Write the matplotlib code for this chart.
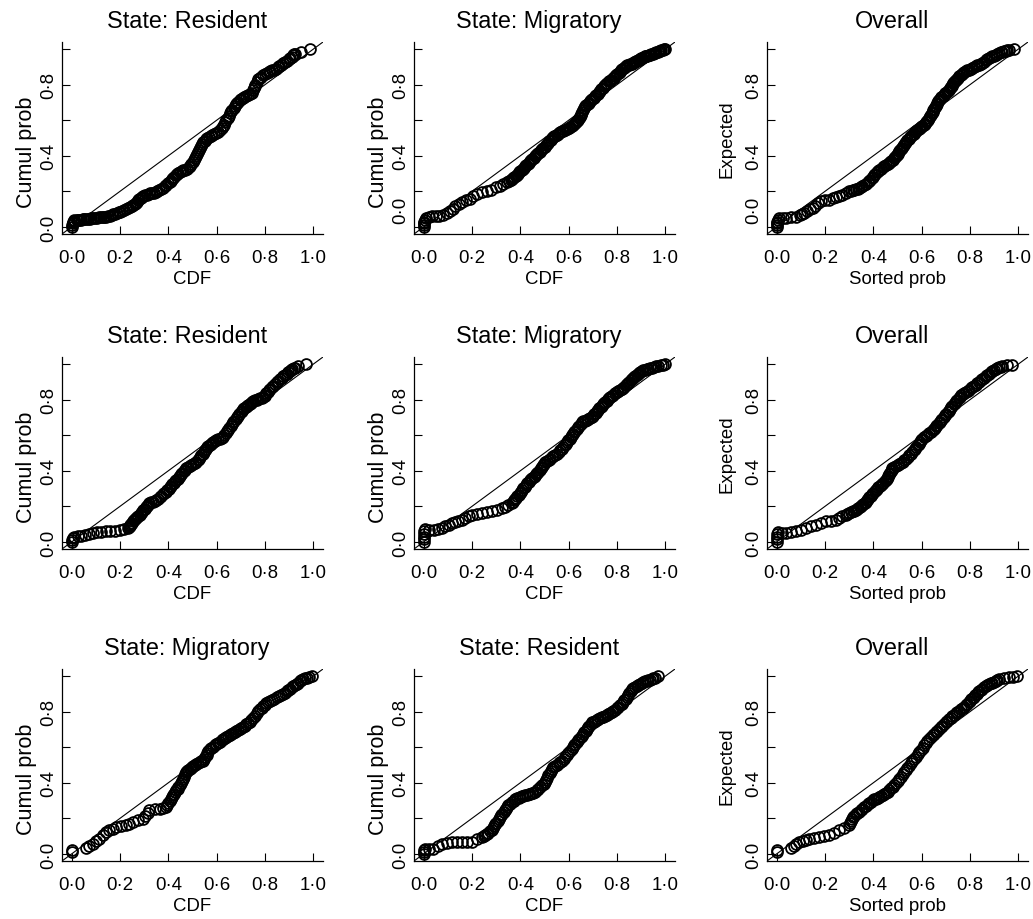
import matplotlib
matplotlib.use('Agg')
import matplotlib.pyplot as plt
from matplotlib.transforms import ScaledTranslation

plt.rcParams['font.family'] = ['Liberation Sans', 'DejaVu Sans']

# (CDF, cumulative probability) pairs
resident_top = [
    (0.00, 0.00), (0.00, 0.01), (0.005, 0.02), (0.005, 0.03), (0.01, 0.035), (0.01, 0.04),
    (0.02, 0.04), (0.025, 0.04), (0.03, 0.04), (0.038, 0.041), (0.045, 0.042), (0.052, 0.044),
    (0.06, 0.045), (0.068, 0.046), (0.075, 0.047), (0.082, 0.048), (0.09, 0.05), (0.098, 0.051),
    (0.105, 0.052), (0.112, 0.054), (0.12, 0.055), (0.128, 0.056), (0.135, 0.057), (0.142, 0.058),
    (0.15, 0.06), (0.158, 0.064), (0.165, 0.068), (0.172, 0.072), (0.18, 0.075), (0.188, 0.078),
    (0.195, 0.082), (0.202, 0.086), (0.21, 0.09), (0.218, 0.095), (0.225, 0.10), (0.232, 0.105),
    (0.24, 0.11), (0.248, 0.116), (0.255, 0.122), (0.26, 0.128), (0.265, 0.135), (0.27, 0.142),
    (0.275, 0.15), (0.28, 0.156), (0.285, 0.163), (0.29, 0.169), (0.295, 0.175), (0.302, 0.178),
    (0.31, 0.182), (0.318, 0.185), (0.325, 0.188), (0.332, 0.19), (0.34, 0.193), (0.348, 0.196),
    (0.355, 0.20), (0.362, 0.206), (0.37, 0.213), (0.378, 0.22), (0.385, 0.228), (0.392, 0.236),
    (0.40, 0.245), (0.405, 0.252), (0.41, 0.26), (0.415, 0.268), (0.42, 0.275), (0.425, 0.282),
    (0.43, 0.29), (0.435, 0.298), (0.44, 0.305), (0.448, 0.31), (0.455, 0.315), (0.462, 0.318),
    (0.47, 0.32), (0.478, 0.328), (0.485, 0.335), (0.49, 0.345), (0.495, 0.355), (0.50, 0.365),
    (0.505, 0.375), (0.51, 0.388), (0.515, 0.40), (0.518, 0.41), (0.522, 0.42), (0.526, 0.432),
    (0.53, 0.445), (0.535, 0.455), (0.54, 0.465), (0.545, 0.475), (0.55, 0.485), (0.555, 0.492),
    (0.56, 0.50), (0.568, 0.505), (0.575, 0.51), (0.582, 0.515), (0.59, 0.52), (0.598, 0.528),
    (0.605, 0.535), (0.612, 0.545), (0.62, 0.555), (0.625, 0.565), (0.63, 0.575), (0.635, 0.588),
    (0.64, 0.60), (0.645, 0.612), (0.65, 0.625), (0.655, 0.638), (0.66, 0.65), (0.665, 0.66),
    (0.67, 0.67), (0.675, 0.68), (0.68, 0.69), (0.685, 0.698), (0.69, 0.705), (0.695, 0.712),
    (0.70, 0.72), (0.708, 0.725), (0.715, 0.73), (0.722, 0.735), (0.73, 0.74), (0.738, 0.748),
    (0.745, 0.755), (0.75, 0.768), (0.755, 0.78), (0.758, 0.79), (0.76, 0.80), (0.765, 0.815),
    (0.77, 0.83), (0.778, 0.838), (0.785, 0.845), (0.792, 0.852), (0.80, 0.86), (0.808, 0.865),
    (0.815, 0.87), (0.822, 0.875), (0.83, 0.88), (0.838, 0.885), (0.845, 0.89), (0.852, 0.898),
    (0.86, 0.905), (0.868, 0.912), (0.875, 0.92), (0.882, 0.928), (0.89, 0.935), (0.898, 0.942),
    (0.905, 0.95), (0.91, 0.958), (0.915, 0.965), (0.92, 0.97), (0.925, 0.975), (0.95, 0.985),
    (0.985, 1.00),
]

migratory_top = [
    (0, 0), (0, 0.01), (0, 0.02), (0.003, 0.03), (0.005, 0.04), (0.01, 0.05), (0.02, 0.055),
    (0.035, 0.06), (0.05, 0.062), (0.065, 0.064), (0.08, 0.068), (0.095, 0.076), (0.11, 0.09),
    (0.12, 0.10), (0.13, 0.115), (0.145, 0.13), (0.16, 0.14), (0.175, 0.15), (0.19, 0.158),
    (0.205, 0.175), (0.22, 0.187), (0.24, 0.195), (0.26, 0.20), (0.28, 0.21), (0.30, 0.222),
    (0.315, 0.232), (0.33, 0.242), (0.345, 0.252), (0.352, 0.258), (0.36, 0.265), (0.365, 0.27),
    (0.37, 0.275), (0.375, 0.281), (0.38, 0.287), (0.385, 0.294), (0.39, 0.30), (0.395, 0.306),
    (0.40, 0.313), (0.405, 0.32), (0.41, 0.326), (0.415, 0.333), (0.42, 0.34), (0.425, 0.348),
    (0.43, 0.355), (0.435, 0.362), (0.44, 0.37), (0.445, 0.376), (0.45, 0.383), (0.455, 0.39),
    (0.46, 0.397), (0.465, 0.404), (0.47, 0.41), (0.475, 0.416), (0.48, 0.423), (0.485, 0.43),
    (0.49, 0.437), (0.495, 0.444), (0.50, 0.45), (0.505, 0.458), (0.51, 0.465), (0.515, 0.474),
    (0.52, 0.482), (0.525, 0.491), (0.53, 0.50), (0.535, 0.505), (0.54, 0.51), (0.545, 0.514),
    (0.55, 0.518), (0.555, 0.522), (0.56, 0.527), (0.566, 0.532), (0.572, 0.537), (0.578, 0.541),
    (0.585, 0.545), (0.592, 0.55), (0.60, 0.555), (0.606, 0.56), (0.613, 0.566), (0.618, 0.572),
    (0.622, 0.578), (0.627, 0.584), (0.632, 0.59), (0.636, 0.596), (0.64, 0.603), (0.643, 0.612),
    (0.646, 0.62), (0.649, 0.628), (0.652, 0.637), (0.656, 0.646), (0.66, 0.655), (0.664, 0.666),
    (0.668, 0.678), (0.673, 0.685), (0.678, 0.692), (0.683, 0.699), (0.688, 0.706), (0.693, 0.713),
    (0.698, 0.72), (0.704, 0.727), (0.709, 0.734), (0.714, 0.742), (0.72, 0.75), (0.725, 0.758),
    (0.73, 0.767), (0.735, 0.776), (0.74, 0.784), (0.745, 0.792), (0.75, 0.80), (0.755, 0.806),
    (0.76, 0.812), (0.766, 0.818), (0.772, 0.823), (0.777, 0.829), (0.782, 0.835), (0.787, 0.84),
    (0.792, 0.846), (0.797, 0.853), (0.802, 0.86), (0.807, 0.866), (0.812, 0.873), (0.817, 0.88),
    (0.822, 0.886), (0.828, 0.893), (0.833, 0.90), (0.838, 0.904), (0.843, 0.908), (0.848, 0.912),
    (0.854, 0.915), (0.86, 0.919), (0.865, 0.923), (0.87, 0.926), (0.875, 0.93), (0.88, 0.934),
    (0.885, 0.937), (0.89, 0.94), (0.895, 0.944), (0.9, 0.948), (0.905, 0.951), (0.91, 0.955),
    (0.916, 0.959), (0.921, 0.962), (0.926, 0.964), (0.931, 0.966), (0.936, 0.969), (0.942, 0.971),
    (0.947, 0.973), (0.952, 0.976), (0.957, 0.978), (0.962, 0.981), (0.968, 0.984), (0.973, 0.987),
    (0.978, 0.99), (0.984, 0.993), (0.989, 0.995), (0.994, 0.998), (1.0, 1.0),
]

overall_top = [
    (0, 0), (0, 0.01), (0, 0.02), (0.003, 0.03), (0.005, 0.04), (0.01, 0.05), (0.025, 0.05),
    (0.04, 0.05), (0.06, 0.053), (0.08, 0.056), (0.095, 0.066), (0.105, 0.073), (0.114, 0.079),
    (0.125, 0.088), (0.137, 0.098), (0.149, 0.107), (0.16, 0.12), (0.172, 0.132), (0.183, 0.144),
    (0.2, 0.149), (0.218, 0.154), (0.232, 0.16), (0.245, 0.166), (0.259, 0.172), (0.272, 0.181),
    (0.286, 0.19), (0.30, 0.20), (0.307, 0.203), (0.314, 0.206), (0.321, 0.209), (0.328, 0.212),
    (0.335, 0.215), (0.342, 0.219), (0.348, 0.225), (0.355, 0.231), (0.362, 0.238), (0.37, 0.244),
    (0.376, 0.25), (0.383, 0.257), (0.388, 0.265), (0.393, 0.273), (0.398, 0.282), (0.403, 0.29),
    (0.408, 0.298), (0.414, 0.306), (0.419, 0.314), (0.424, 0.322), (0.431, 0.328), (0.438, 0.335),
    (0.445, 0.341), (0.452, 0.347), (0.459, 0.354), (0.466, 0.36), (0.47, 0.366), (0.475, 0.372),
    (0.48, 0.378), (0.484, 0.385), (0.488, 0.391), (0.493, 0.397), (0.496, 0.404), (0.5, 0.411),
    (0.504, 0.418), (0.507, 0.425), (0.51, 0.432), (0.514, 0.439), (0.518, 0.446), (0.521, 0.453),
    (0.526, 0.462), (0.531, 0.47), (0.536, 0.478), (0.541, 0.486), (0.546, 0.494), (0.552, 0.503),
    (0.557, 0.511), (0.562, 0.519), (0.567, 0.525), (0.572, 0.531), (0.577, 0.537), (0.582, 0.543),
    (0.588, 0.548), (0.593, 0.554), (0.598, 0.56), (0.603, 0.566), (0.608, 0.574), (0.612, 0.581),
    (0.617, 0.589), (0.622, 0.597), (0.626, 0.604), (0.631, 0.612), (0.634, 0.621), (0.638, 0.63),
    (0.641, 0.639), (0.645, 0.648), (0.648, 0.656), (0.652, 0.665), (0.655, 0.674), (0.659, 0.682),
    (0.662, 0.69), (0.665, 0.698), (0.668, 0.706), (0.672, 0.715), (0.677, 0.722), (0.682, 0.729),
    (0.687, 0.736), (0.692, 0.744), (0.698, 0.751), (0.703, 0.758), (0.708, 0.765), (0.713, 0.772),
    (0.716, 0.779), (0.72, 0.786), (0.724, 0.793), (0.727, 0.80), (0.73, 0.807), (0.734, 0.814),
    (0.738, 0.821), (0.741, 0.828), (0.746, 0.834), (0.751, 0.84), (0.756, 0.846), (0.761, 0.852),
    (0.766, 0.858), (0.772, 0.863), (0.777, 0.869), (0.782, 0.875), (0.789, 0.88), (0.796, 0.884),
    (0.803, 0.889), (0.81, 0.893), (0.816, 0.898), (0.823, 0.903), (0.83, 0.908), (0.837, 0.912),
    (0.844, 0.918), (0.851, 0.924), (0.858, 0.93), (0.865, 0.937), (0.872, 0.943), (0.879, 0.949),
    (0.886, 0.954), (0.893, 0.959), (0.9, 0.964), (0.906, 0.968), (0.913, 0.973), (0.92, 0.978),
    (0.927, 0.981), (0.934, 0.984), (0.941, 0.987), (0.947, 0.99), (0.954, 0.993), (0.961, 0.996),
    (0.982, 1.0),
]

resident_mid = [
    (0, 0), (0, 0.01), (0.005, 0.02), (0.01, 0.03), (0.025, 0.031), (0.039, 0.032), (0.055, 0.038),
    (0.07, 0.044), (0.087, 0.05), (0.105, 0.053), (0.123, 0.057), (0.142, 0.06), (0.16, 0.062),
    (0.18, 0.063), (0.198, 0.065), (0.215, 0.071), (0.232, 0.078), (0.236, 0.084), (0.24, 0.09),
    (0.243, 0.096), (0.246, 0.102), (0.25, 0.108), (0.253, 0.115), (0.258, 0.122), (0.262, 0.128),
    (0.267, 0.134), (0.272, 0.14), (0.276, 0.146), (0.281, 0.153), (0.286, 0.161), (0.291, 0.169),
    (0.296, 0.178), (0.302, 0.186), (0.307, 0.194), (0.312, 0.202), (0.317, 0.21), (0.322, 0.218),
    (0.329, 0.222), (0.336, 0.227), (0.343, 0.231), (0.35, 0.236), (0.357, 0.244), (0.364, 0.252),
    (0.37, 0.26), (0.377, 0.267), (0.384, 0.275), (0.391, 0.283), (0.396, 0.291), (0.401, 0.299),
    (0.406, 0.308), (0.412, 0.316), (0.417, 0.324), (0.422, 0.332), (0.428, 0.34), (0.433, 0.348),
    (0.438, 0.356), (0.443, 0.364), (0.448, 0.372), (0.453, 0.381), (0.458, 0.389), (0.464, 0.397),
    (0.469, 0.405), (0.474, 0.413), (0.481, 0.419), (0.488, 0.425), (0.495, 0.432), (0.502, 0.438),
    (0.509, 0.444), (0.516, 0.45), (0.521, 0.46), (0.526, 0.469), (0.531, 0.478), (0.536, 0.488),
    (0.542, 0.497), (0.547, 0.506), (0.552, 0.516), (0.557, 0.525), (0.562, 0.531), (0.566, 0.537),
    (0.571, 0.544), (0.576, 0.55), (0.58, 0.556), (0.585, 0.562), (0.592, 0.566), (0.599, 0.571),
    (0.606, 0.576), (0.613, 0.581), (0.62, 0.586), (0.627, 0.59), (0.632, 0.6), (0.637, 0.611),
    (0.642, 0.622), (0.647, 0.632), (0.652, 0.642), (0.658, 0.652), (0.663, 0.662), (0.668, 0.673),
    (0.673, 0.682), (0.678, 0.692), (0.684, 0.701), (0.689, 0.71), (0.694, 0.72), (0.699, 0.729),
    (0.704, 0.738), (0.71, 0.748), (0.715, 0.754), (0.72, 0.76), (0.725, 0.766), (0.73, 0.771),
    (0.736, 0.777), (0.741, 0.783), (0.746, 0.788), (0.751, 0.794), (0.758, 0.797), (0.765, 0.80),
    (0.772, 0.804), (0.779, 0.807), (0.786, 0.81), (0.793, 0.813), (0.798, 0.821), (0.802, 0.829),
    (0.806, 0.836), (0.811, 0.844), (0.816, 0.852), (0.82, 0.86), (0.827, 0.869), (0.834, 0.878),
    (0.841, 0.888), (0.848, 0.897), (0.855, 0.906), (0.862, 0.915), (0.869, 0.923), (0.876, 0.931),
    (0.882, 0.938), (0.889, 0.946), (0.896, 0.954), (0.903, 0.962), (0.908, 0.966), (0.913, 0.971),
    (0.918, 0.976), (0.924, 0.98), (0.935, 0.99), (0.97, 1.0),
]

migratory_mid = [
    (0, 0), (0, 0.015), (0, 0.03), (0, 0.045), (0.003, 0.06), (0.005, 0.07), (0.02, 0.066),
    (0.041, 0.069), (0.058, 0.073), (0.076, 0.078), (0.09, 0.088), (0.103, 0.097), (0.117, 0.106),
    (0.13, 0.112), (0.144, 0.119), (0.158, 0.125), (0.172, 0.134), (0.186, 0.144), (0.20, 0.153),
    (0.22, 0.158), (0.241, 0.162), (0.262, 0.166), (0.282, 0.171), (0.303, 0.18), (0.324, 0.19),
    (0.338, 0.199), (0.351, 0.208), (0.365, 0.218), (0.37, 0.226), (0.374, 0.233), (0.379, 0.241),
    (0.384, 0.249), (0.388, 0.256), (0.393, 0.264), (0.398, 0.274), (0.403, 0.283), (0.408, 0.292),
    (0.413, 0.301), (0.418, 0.31), (0.424, 0.32), (0.429, 0.33), (0.434, 0.339), (0.439, 0.346),
    (0.444, 0.353), (0.45, 0.36), (0.455, 0.366), (0.46, 0.373), (0.465, 0.38), (0.47, 0.387),
    (0.475, 0.394), (0.48, 0.404), (0.484, 0.413), (0.489, 0.422), (0.494, 0.431), (0.498, 0.44),
    (0.503, 0.45), (0.51, 0.456), (0.517, 0.462), (0.524, 0.468), (0.53, 0.475), (0.537, 0.481),
    (0.544, 0.487), (0.551, 0.496), (0.558, 0.506), (0.564, 0.515), (0.571, 0.524), (0.578, 0.534),
    (0.585, 0.543), (0.59, 0.552), (0.594, 0.562), (0.599, 0.571), (0.604, 0.58), (0.608, 0.59),
    (0.613, 0.599), (0.618, 0.608), (0.623, 0.617), (0.628, 0.626), (0.634, 0.636), (0.639, 0.645),
    (0.644, 0.654), (0.649, 0.664), (0.654, 0.673), (0.661, 0.678), (0.668, 0.682), (0.675, 0.687),
    (0.682, 0.692), (0.689, 0.696), (0.696, 0.701), (0.701, 0.71), (0.706, 0.718), (0.712, 0.726),
    (0.717, 0.734), (0.722, 0.742), (0.727, 0.751), (0.732, 0.759), (0.737, 0.767), (0.742, 0.774),
    (0.747, 0.781), (0.752, 0.788), (0.758, 0.795), (0.763, 0.802), (0.768, 0.808), (0.773, 0.815),
    (0.778, 0.822), (0.785, 0.828), (0.792, 0.835), (0.799, 0.841), (0.806, 0.847), (0.813, 0.854),
    (0.82, 0.86), (0.825, 0.867), (0.83, 0.874), (0.836, 0.881), (0.841, 0.888), (0.846, 0.894),
    (0.851, 0.901), (0.856, 0.908), (0.861, 0.915), (0.866, 0.921), (0.871, 0.927), (0.876, 0.933),
    (0.882, 0.939), (0.887, 0.944), (0.892, 0.95), (0.897, 0.956), (0.902, 0.962), (0.909, 0.965),
    (0.916, 0.968), (0.923, 0.971), (0.93, 0.974), (0.937, 0.977), (0.944, 0.98), (0.953, 0.983),
    (0.962, 0.987), (0.971, 0.99), (0.98, 0.993), (0.99, 0.996), (0.999, 1.0),
]

overall_mid = [
    (0, 0), (0, 0.015), (0, 0.03), (0.003, 0.045), (0.005, 0.055), (0.02, 0.05), (0.039, 0.05),
    (0.059, 0.055), (0.08, 0.06), (0.1, 0.069), (0.121, 0.078), (0.142, 0.088), (0.163, 0.097),
    (0.183, 0.106), (0.204, 0.115), (0.224, 0.12), (0.245, 0.125), (0.259, 0.134), (0.272, 0.144),
    (0.286, 0.153), (0.293, 0.158), (0.3, 0.162), (0.307, 0.166), (0.314, 0.171), (0.321, 0.176),
    (0.328, 0.18), (0.333, 0.186), (0.338, 0.192), (0.343, 0.198), (0.348, 0.204), (0.354, 0.21),
    (0.359, 0.215), (0.364, 0.221), (0.369, 0.227), (0.374, 0.235), (0.379, 0.243), (0.384, 0.252),
    (0.39, 0.26), (0.395, 0.268), (0.4, 0.276), (0.405, 0.284), (0.41, 0.292), (0.416, 0.299),
    (0.421, 0.306), (0.426, 0.313), (0.431, 0.32), (0.437, 0.327), (0.442, 0.334), (0.447, 0.341),
    (0.452, 0.348), (0.456, 0.356), (0.459, 0.364), (0.462, 0.372), (0.465, 0.381), (0.469, 0.389),
    (0.472, 0.397), (0.476, 0.405), (0.479, 0.413), (0.486, 0.419), (0.493, 0.425), (0.5, 0.432),
    (0.507, 0.438), (0.514, 0.444), (0.521, 0.45), (0.528, 0.46), (0.535, 0.469), (0.542, 0.478),
    (0.548, 0.487), (0.555, 0.496), (0.562, 0.506), (0.567, 0.515), (0.572, 0.525), (0.578, 0.534),
    (0.583, 0.543), (0.588, 0.552), (0.593, 0.562), (0.598, 0.571), (0.603, 0.58), (0.61, 0.588),
    (0.617, 0.596), (0.624, 0.604), (0.631, 0.611), (0.638, 0.619), (0.645, 0.627), (0.65, 0.635),
    (0.655, 0.643), (0.66, 0.652), (0.665, 0.66), (0.67, 0.668), (0.676, 0.676), (0.681, 0.684),
    (0.686, 0.692), (0.691, 0.702), (0.696, 0.711), (0.702, 0.72), (0.707, 0.73), (0.712, 0.739),
    (0.717, 0.748), (0.722, 0.758), (0.727, 0.767), (0.732, 0.775), (0.737, 0.783), (0.742, 0.792),
    (0.748, 0.8), (0.753, 0.808), (0.758, 0.816), (0.763, 0.824), (0.769, 0.832), (0.776, 0.838),
    (0.783, 0.844), (0.79, 0.85), (0.796, 0.857), (0.803, 0.863), (0.81, 0.869), (0.817, 0.876),
    (0.824, 0.884), (0.83, 0.892), (0.837, 0.9), (0.844, 0.908), (0.851, 0.915), (0.858, 0.923),
    (0.865, 0.931), (0.872, 0.938), (0.879, 0.946), (0.886, 0.954), (0.893, 0.962), (0.9, 0.966),
    (0.907, 0.971), (0.913, 0.976), (0.92, 0.981), (0.927, 0.985), (0.934, 0.99), (0.955, 0.993),
    (0.975, 0.995),
]

migratory_low = [
    (0, 0.01), (0, 0.02), (0.06, 0.034), (0.073, 0.046), (0.087, 0.058), (0.101, 0.072),
    (0.115, 0.086), (0.128, 0.105), (0.142, 0.123), (0.156, 0.132), (0.17, 0.142), (0.184, 0.151),
    (0.204, 0.156), (0.225, 0.161), (0.239, 0.17), (0.253, 0.179), (0.274, 0.188), (0.295, 0.198),
    (0.305, 0.214), (0.314, 0.23), (0.322, 0.245), (0.343, 0.25), (0.364, 0.254), (0.378, 0.259),
    (0.391, 0.264), (0.396, 0.275), (0.4, 0.286), (0.405, 0.296), (0.41, 0.307), (0.414, 0.318),
    (0.419, 0.329), (0.424, 0.338), (0.428, 0.348), (0.433, 0.357), (0.438, 0.366), (0.442, 0.376),
    (0.447, 0.385), (0.452, 0.398), (0.456, 0.41), (0.46, 0.422), (0.465, 0.435), (0.47, 0.448),
    (0.474, 0.46), (0.478, 0.466), (0.483, 0.472), (0.488, 0.478), (0.493, 0.485), (0.498, 0.491),
    (0.502, 0.497), (0.509, 0.502), (0.516, 0.506), (0.523, 0.511), (0.53, 0.516), (0.537, 0.52),
    (0.544, 0.525), (0.548, 0.536), (0.553, 0.547), (0.558, 0.558), (0.562, 0.568), (0.566, 0.579),
    (0.571, 0.59), (0.578, 0.597), (0.585, 0.604), (0.592, 0.612), (0.599, 0.619), (0.606, 0.625),
    (0.613, 0.631), (0.62, 0.638), (0.626, 0.644), (0.633, 0.65), (0.64, 0.656), (0.647, 0.662),
    (0.654, 0.668), (0.661, 0.674), (0.668, 0.681), (0.675, 0.687), (0.682, 0.693), (0.689, 0.699),
    (0.696, 0.705), (0.702, 0.71), (0.709, 0.716), (0.716, 0.722), (0.723, 0.728), (0.73, 0.734),
    (0.737, 0.74), (0.744, 0.752), (0.751, 0.765), (0.758, 0.778), (0.765, 0.79), (0.772, 0.802),
    (0.779, 0.815), (0.786, 0.823), (0.793, 0.831), (0.8, 0.838), (0.806, 0.846), (0.813, 0.854),
    (0.82, 0.862), (0.83, 0.868), (0.839, 0.874), (0.848, 0.88), (0.857, 0.887), (0.866, 0.893),
    (0.876, 0.899), (0.883, 0.907), (0.89, 0.915), (0.897, 0.922), (0.903, 0.93), (0.91, 0.938),
    (0.917, 0.946), (0.924, 0.952), (0.931, 0.958), (0.938, 0.964), (0.944, 0.971), (0.951, 0.977),
    (0.958, 0.983), (0.966, 0.988), (0.975, 0.992), (0.984, 0.996), (0.993, 1.0),
]

resident_low = [
    (0, 0.0), (0, 0.01), (0, 0.02), (0.005, 0.03), (0.02, 0.03), (0.04, 0.03), (0.058, 0.044),
    (0.076, 0.058), (0.096, 0.062), (0.117, 0.067), (0.137, 0.067), (0.158, 0.067), (0.179, 0.067),
    (0.20, 0.067), (0.22, 0.081), (0.241, 0.095), (0.248, 0.102), (0.255, 0.108), (0.262, 0.114),
    (0.268, 0.12), (0.275, 0.126), (0.282, 0.133), (0.286, 0.144), (0.291, 0.155), (0.296, 0.166),
    (0.301, 0.176), (0.306, 0.187), (0.31, 0.198), (0.315, 0.208), (0.32, 0.217), (0.326, 0.226),
    (0.331, 0.236), (0.336, 0.245), (0.341, 0.254), (0.346, 0.264), (0.351, 0.273), (0.358, 0.282),
    (0.365, 0.291), (0.372, 0.3), (0.379, 0.31), (0.386, 0.313), (0.393, 0.316), (0.4, 0.32),
    (0.406, 0.323), (0.413, 0.326), (0.42, 0.329), (0.427, 0.332), (0.434, 0.335), (0.44, 0.338),
    (0.447, 0.342), (0.454, 0.345), (0.461, 0.348), (0.468, 0.358), (0.475, 0.367), (0.482, 0.376),
    (0.489, 0.385), (0.496, 0.394), (0.503, 0.404), (0.508, 0.416), (0.512, 0.429), (0.516, 0.442),
    (0.521, 0.454), (0.526, 0.466), (0.53, 0.479), (0.537, 0.486), (0.544, 0.494), (0.551, 0.502),
    (0.558, 0.51), (0.565, 0.518), (0.572, 0.525), (0.579, 0.536), (0.586, 0.547), (0.592, 0.558),
    (0.599, 0.569), (0.606, 0.58), (0.613, 0.591), (0.618, 0.6), (0.623, 0.61), (0.628, 0.619),
    (0.634, 0.628), (0.639, 0.638), (0.644, 0.647), (0.649, 0.656), (0.654, 0.665), (0.66, 0.674),
    (0.665, 0.684), (0.67, 0.694), (0.675, 0.703), (0.68, 0.712), (0.686, 0.721), (0.691, 0.73),
    (0.696, 0.74), (0.703, 0.744), (0.71, 0.749), (0.716, 0.754), (0.723, 0.759), (0.73, 0.764),
    (0.737, 0.768), (0.744, 0.772), (0.751, 0.777), (0.758, 0.782), (0.764, 0.787), (0.771, 0.792),
    (0.778, 0.796), (0.785, 0.804), (0.792, 0.812), (0.799, 0.82), (0.806, 0.827), (0.813, 0.835),
    (0.82, 0.843), (0.825, 0.854), (0.83, 0.864), (0.836, 0.874), (0.841, 0.885), (0.846, 0.896),
    (0.851, 0.906), (0.856, 0.916), (0.861, 0.927), (0.868, 0.933), (0.875, 0.939), (0.882, 0.946),
    (0.888, 0.952), (0.895, 0.958), (0.902, 0.964), (0.909, 0.967), (0.916, 0.97), (0.923, 0.974),
    (0.93, 0.977), (0.937, 0.98), (0.944, 0.983), (0.951, 0.988), (0.958, 0.992), (0.971, 1.0),
]

overall_low = [
    (0, 0.01), (0, 0.02), (0.059, 0.034), (0.071, 0.045), (0.082, 0.056), (0.094, 0.067),
    (0.108, 0.073), (0.121, 0.08), (0.135, 0.086), (0.155, 0.09), (0.176, 0.095), (0.197, 0.101),
    (0.218, 0.108), (0.238, 0.12), (0.259, 0.133), (0.28, 0.147), (0.30, 0.161), (0.304, 0.172),
    (0.307, 0.184), (0.31, 0.196), (0.314, 0.207), (0.321, 0.215), (0.328, 0.223), (0.334, 0.23),
    (0.341, 0.238), (0.348, 0.246), (0.355, 0.254), (0.362, 0.262), (0.369, 0.27), (0.376, 0.278),
    (0.383, 0.285), (0.39, 0.293), (0.397, 0.301), (0.404, 0.306), (0.411, 0.31), (0.418, 0.315),
    (0.424, 0.32), (0.431, 0.324), (0.438, 0.329), (0.445, 0.336), (0.452, 0.343), (0.459, 0.35),
    (0.466, 0.357), (0.473, 0.368), (0.48, 0.379), (0.486, 0.39), (0.493, 0.4), (0.5, 0.411),
    (0.507, 0.422), (0.514, 0.434), (0.521, 0.447), (0.528, 0.46), (0.534, 0.472), (0.541, 0.484),
    (0.548, 0.497), (0.555, 0.51), (0.562, 0.522), (0.569, 0.534), (0.576, 0.547), (0.583, 0.56),
    (0.59, 0.572), (0.597, 0.584), (0.604, 0.597), (0.61, 0.61), (0.617, 0.622), (0.624, 0.634),
    (0.631, 0.647), (0.638, 0.656), (0.645, 0.666), (0.652, 0.675), (0.658, 0.684), (0.665, 0.694),
    (0.672, 0.703), (0.679, 0.712), (0.686, 0.722), (0.692, 0.731), (0.699, 0.74), (0.706, 0.75),
    (0.713, 0.759), (0.72, 0.767), (0.727, 0.775), (0.734, 0.782), (0.741, 0.79), (0.748, 0.798),
    (0.755, 0.806), (0.762, 0.814), (0.769, 0.821), (0.776, 0.829), (0.782, 0.837), (0.789, 0.844),
    (0.796, 0.852), (0.801, 0.86), (0.806, 0.869), (0.811, 0.877), (0.816, 0.885), (0.822, 0.894),
    (0.827, 0.902), (0.832, 0.91), (0.837, 0.918), (0.844, 0.924), (0.851, 0.93), (0.858, 0.936),
    (0.865, 0.943), (0.872, 0.949), (0.879, 0.955), (0.886, 0.96), (0.893, 0.964), (0.9, 0.969),
    (0.906, 0.974), (0.913, 0.978), (0.92, 0.983), (0.941, 0.988), (0.961, 0.993), (0.979, 0.997),
    (0.996, 1.0),
]

titles = [
    ['State: Resident', 'State: Migratory', 'Overall'],
    ['State: Resident', 'State: Migratory', 'Overall'],
    ['State: Migratory', 'State: Resident', 'Overall'],
]
panels = [
    [resident_top, migratory_top, overall_top],
    [resident_mid, migratory_mid, overall_mid],
    [migratory_low, resident_low, overall_low],
]
ylabels = ['Cumul prob', 'Cumul prob', 'Expected']
xlabels = ['CDF', 'CDF', 'Sorted prob']

tick_vals = [0.0, 0.2, 0.4, 0.6, 0.8, 1.0]
x_ticklabels = ['0\u00b70', '0\u00b72', '0\u00b74', '0\u00b76', '0\u00b78', '1\u00b70']
y_ticklabels = ['0\u00b70', '', '0\u00b74', '', '0\u00b78', '']

W, H = 1033, 920
fig = plt.figure(figsize=(W / 100, H / 100), dpi=100)

col_left = [62, 414, 767]
row_top = [43, 358, 670]
ax_w, ax_h = 261, 192

for r in range(3):
    for c in range(3):
        ax = fig.add_axes([col_left[c] / W, 1 - (row_top[r] + ax_h) / H, ax_w / W, ax_h / H])
        pts = panels[r][c]
        xs = [p[0] for p in pts]
        ys = [p[1] for p in pts]
        ax.axline((0, 0), slope=1, color='black', lw=0.8, zorder=1)
        ax.plot(xs, ys, linestyle='none', marker='o', ms=7.8, mfc='none',
                mec='black', mew=1.3, zorder=2)
        ax.set_xlim(-0.04, 1.04)
        ax.set_ylim(-0.04, 1.04)
        for s in ['top', 'right']:
            ax.spines[s].set_visible(False)
        for s in ['left', 'bottom']:
            ax.spines[s].set_linewidth(0.9)
        ax.set_xticks(tick_vals, x_ticklabels)
        ax.set_yticks(tick_vals, y_ticklabels)
        ax.tick_params(direction='in', length=5.5, width=0.8, labelsize=13.4)
        ax.tick_params(axis='x', pad=11)
        ax.tick_params(axis='y', pad=3.5)
        for lab in ax.get_yticklabels():
            lab.set_rotation(90)
            lab.set_va('center')
        if r == 0 and c > 0:
            lab0 = ax.get_yticklabels()[0]
            lab0.set_transform(lab0.get_transform() + ScaledTranslation(0, 0.18, fig.dpi_scale_trans))
        ax.set_title(titles[r][c], fontsize=16.8, pad=11, x=0.478)
        ax.set_xlabel(xlabels[c], fontsize=13.4)
        ax.xaxis.set_label_coords(0.5, -0.185)
        if c < 2:
            ax.set_ylabel(ylabels[c], fontsize=15.5)
            ax.yaxis.set_label_coords(-0.096, 0.43)
        else:
            ax.set_ylabel(ylabels[c], fontsize=13.4)
            ax.yaxis.set_label_coords(-0.119, 0.5)

fig.savefig('out.png', dpi=100)
